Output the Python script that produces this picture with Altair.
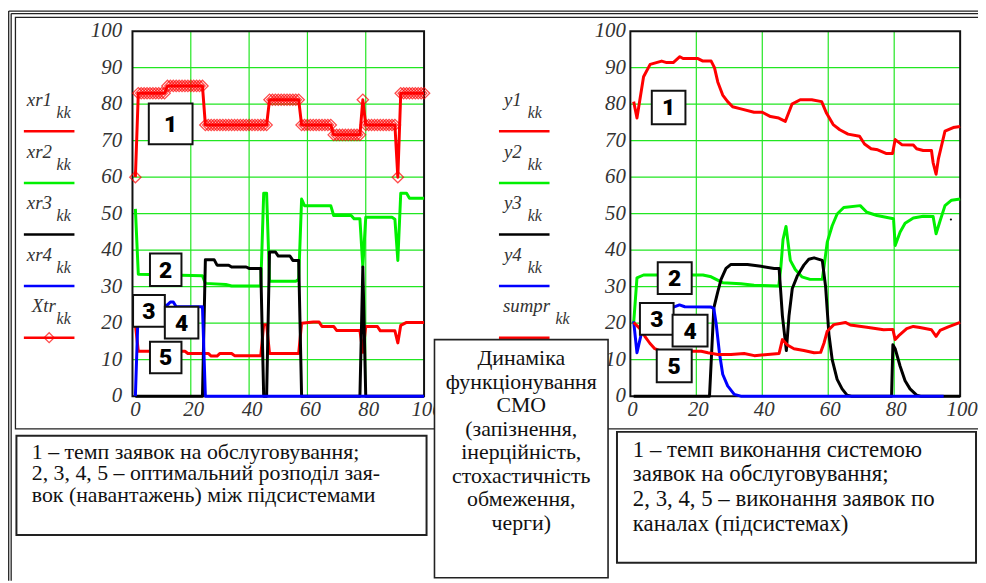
import altair as alt
import pandas as pd

# ------------------------------------------------------------------ data
y_ticks = [0, 10, 20, 30, 40, 50, 60, 70, 80, 90, 100]
x_ticks = [0, 20, 40, 60, 80, 100]

# left panel (kk = 1..100 for the target trace with markers)
kk = list(range(1, 101))
xtr = [60,
       83, 83, 83, 83, 83, 83, 83, 83, 83, 83,
       85, 85, 85, 85, 85, 85, 85, 85, 85, 85, 85, 85, 85,
       74.3, 74.3, 74.3, 74.3, 74.3, 74.3, 74.3, 74.3, 74.3, 74.3, 74.3,
       74.3, 74.3, 74.3, 74.3, 74.3, 74.3, 74.3, 74.3, 74.3, 74.3, 74.3,
       81.2, 81.2, 81.2, 81.2, 81.2, 81.2, 81.2, 81.2, 81.2, 81.2, 81.2,
       74.3, 74.3, 74.3, 74.3, 74.3, 74.3, 74.3, 74.3, 74.3, 74.3, 74.3,
       71.6, 71.6, 71.6, 71.6, 71.6, 71.6, 71.6, 71.6, 71.6, 71.6,
       81.2,
       74.3, 74.3, 74.3, 74.3, 74.3, 74.3, 74.3, 74.3, 74.3, 74.3, 74.3,
       60,
       83, 83, 83, 83, 83, 83, 83, 83, 83]

xr1_x = [1, 2, 18, 19, 26, 27, 29, 30, 34, 35, 44, 45, 46, 47, 57, 58, 62, 64, 65, 69,
         70, 78, 79, 80, 84, 85, 90, 91, 92, 94, 100]
xr1_y = [19.6, 12.3, 12.3, 11.7, 11.7, 11.0, 11.0, 11.7, 11.7, 11.1, 11.1, 19.6, 19.6, 11.7,
         11.7, 20.0, 20.3, 20.3, 19.1, 19.1, 18.0, 18.0, 12.0, 19.1, 19.1, 17.9, 17.9, 14.6,
         19.4, 20.2, 20.2]

xr2_x = [1, 2, 24, 25, 32, 34, 44, 45, 46, 47, 56, 57, 58, 59, 68, 69, 75, 76, 78, 79,
         80, 89, 90, 91, 92, 94, 95, 100]
xr2_y = [51.3, 33.4, 33.0, 30.9, 30.6, 30.2, 30.2, 55.6, 55.6, 31.5, 31.5, 32.0, 54.0, 52.2,
         52.2, 49.5, 49.5, 48.6, 48.6, 35.4, 49.0, 49.0, 48.5, 37.2, 55.6, 55.6, 54.2, 54.2]

xr3_x = [1, 24, 25, 28, 29, 33, 34, 39, 40, 44, 45, 46, 47, 49, 50, 54, 55, 57, 58, 78,
         79, 80, 100]
xr3_y = [0, 0, 37.4, 37.4, 35.9, 35.9, 35.4, 35.4, 35.0, 35.0, 0, 0, 39.5, 39.5, 38.4, 38.4,
         37.2, 37.2, 0, 0, 35.4, 0, 0]

xr4_x = [1, 2, 12, 13, 14, 15, 24, 25, 100]
xr4_y = [0, 24.5, 25.0, 25.8, 25.8, 24.5, 24.5, 0, 0]

# right panel
y1_x = [1, 2, 4, 6, 9.5, 11, 13, 15, 16, 20.5, 22, 24.5, 25.5, 26.5, 28, 29.5, 31, 33.5,
        37.5, 40, 42.5, 45, 47, 49, 51.5, 55, 58, 59.5, 61.5, 63.5, 66, 69.5, 71, 73, 75,
        77.5, 79.5, 80.3, 82.3, 85.8, 86.8, 88.8, 91.3, 91.8, 92.7, 93.4, 95.4, 97.9, 100]
y1_y = [80.7, 76.2, 87.5, 90.9, 91.8, 91.4, 91.4, 93.0, 92.5, 92.5, 91.8, 91.8, 90.0, 86.1,
        82.5, 80.7, 79.3, 78.7, 77.8, 77.8, 76.6, 76.2, 75.3, 80.0, 81.2, 81.2, 80.7, 77.5,
        74.4, 73.0, 71.8, 71.2, 69.1, 67.8, 67.5, 66.5, 66.5, 70.3, 68.9, 68.8, 67.8, 67.3,
        67.3, 64.0, 60.8, 65.0, 72.6, 73.6, 73.9]

y2_x = [1, 2, 4, 22, 24.5, 26, 28, 33.5, 37.5, 45, 45.6, 46.3, 47.2, 48.5, 50, 52, 54.5,
        58.2, 58.8, 59.7, 61.2, 62.7, 64.7, 69.7, 71.7, 74.8, 79.8, 80.3, 81.8, 83.3, 85.8,
        88.8, 91.8, 92.7, 93.9, 95.4, 97.4, 100]
y2_y = [20.0, 32.4, 33.2, 33.2, 32.7, 32.0, 31.1, 30.8, 30.4, 30.2, 35.0, 43.0, 46.5, 37.2,
        34.7, 32.7, 32.0, 32.0, 36.0, 42.2, 46.7, 49.9, 51.7, 52.2, 50.4, 49.5, 48.6, 41.3,
        45.0, 47.4, 48.8, 49.3, 49.2, 44.5, 48.0, 52.2, 53.7, 54.0]

y3_x = [1, 24, 25.3, 26.5, 27.5, 29, 30.5, 35.5, 39.6, 43.6, 45.1, 46.1, 47.3, 48.1, 49.1,
        50.6, 52.6, 54.1, 55.7, 58.2, 59.2, 60.2, 61.2, 62.7, 64.2, 65.7, 67, 79.2, 79.6,
        80.3, 81.8, 83.3, 84.8, 86.8, 88, 100]
y3_y = [0, 0, 24.1, 28.6, 32.0, 35.0, 36.1, 36.1, 35.6, 35.0, 35.0, 22.0, 12.5, 22.0, 29.5,
        32.9, 35.9, 37.5, 37.9, 37.2, 30.0, 17.0, 10.0, 4.6, 2.0, 0.3, 0, 0, 14.1, 13.0, 8.2,
        4.2, 2.0, 0.3, 0, 0]

y4_x = [1, 2, 3.5, 6, 10, 13.1, 14.9, 16.5, 24.5, 25.3, 26, 27, 28, 29.5, 31.5, 33.5, 95]
y4_y = [20.5, 11.9, 17.8, 23.0, 24.3, 24.4, 25.0, 24.5, 24.4, 24.0, 20.0, 11.9, 6.0, 2.8,
        0.5, 0, 0]

y5_x = [1, 2.9, 4.4, 5.9, 7.4, 8.9, 18.6, 21.5, 23.5, 26.5, 30.5, 34.5, 37.6, 45.1, 46.1,
        47.6, 49.6, 52.6, 55.7, 57.7, 58.7, 59.7, 61.7, 65.2, 66.7, 71.7, 76.8, 79.6, 80.3,
        81.3, 83.8, 85.8, 87.8, 91.3, 92.7, 93.9, 96.4, 100]
y5_y = [20.2, 18.5, 16.4, 14.5, 13.0, 12.5, 12.3, 12.3, 11.9, 11.4, 11.4, 11.7, 11.1, 11.7,
        15.5, 14.0, 13.0, 12.5, 11.9, 12.0, 14.5, 17.8, 19.6, 20.2, 19.5, 18.9, 18.2, 18.3,
        15.5, 16.5, 18.5, 19.1, 18.8, 18.2, 16.4, 18.0, 19.0, 20.2]

dot_x = [97.2]
dot_y = [48.4]

left_names = ["xr1", "xr2", "xr3", "xr4", "Xtr"]
right_names = ["y1", "y2", "y3", "y4", "sumpr"]
tag_labels = ["1", "2", "3", "4", "5"]

left_note = ["1 – темп заявок на обслуговування;",
             "2, 3, 4, 5 – оптимальний розподіл зая-",
             "вок (навантажень) між підсистемами"]
mid_note = ["Динаміка", "функціонування", "СМО", "(запізнення,", "інерційність,",
            "стохастичність", "обмеження,", "черги)"]
right_note = ["1 – темп виконання системою", "заявок на обслуговування;",
              "2, 3, 4, 5 – виконання заявок по", "каналах (підсистемах)"]

# ------------------------------------------------------------------ layout / style
W, H = 978, 575
SERIF = "Liberation Serif"
TAGF = "Roboto"
RED, GREEN, BLACK, BLUE = "#ff0000", "#00f000", "#000000", "#0000ff"
GRID = "#22e622"
LX = [125.5, 419.5]
RX = [627.5, 960]
YR = [389, 21]

# tag boxes (x0, x1, y0, y1) in data units of each panel
left_tag_box = [(5.6, 20.6, 69.0, 80.2), (6.0, 16.8, 30.2, 39.1), (0.2, 11.1, 19.0, 27.7),
                (11.1, 22.6, 15.8, 24.5), (6.0, 16.8, 6.3, 14.9)]
right_tag_box = [(6.5, 16.7, 74.5, 83.7), (8.3, 18.6, 28.0, 36.7), (2.9, 13.1, 16.8, 25.5),
                 (12.8, 23.4, 13.6, 22.3), (8.0, 18.6, 3.8, 12.8)]

one = pd.DataFrame({"a": [0]})
layers = []


def sx(rng):
    return alt.Scale(domain=[0, 100], range=rng, nice=False, zero=False)


def XQ(field, rng):
    return alt.X(field, type="quantitative", scale=sx(rng), axis=None)


def YQ(field):
    return alt.Y(field, type="quantitative", scale=sx(YR), axis=None)


def hrule(y, x1, x2, w=1.3, c="#222"):
    return alt.Chart(one).mark_rule(color=c, strokeWidth=w).encode(
        x=alt.value(x1), x2=alt.value(x2), y=alt.value(y))


def vrule(x, y1, y2, w=1.3, c="#222"):
    return alt.Chart(one).mark_rule(color=c, strokeWidth=w).encode(
        x=alt.value(x), y=alt.value(y1), y2=alt.value(y2))


def box(x1, x2, y1, y2, w=1.3, fill=None):
    kw = dict(stroke="#222", strokeWidth=w)
    if fill:
        kw["fill"] = fill
    else:
        kw["fillOpacity"] = 0
    return alt.Chart(one).mark_rect(**kw).encode(
        x=alt.value(x1), x2=alt.value(x2), y=alt.value(y1), y2=alt.value(y2))


def pix_text(texts, xs, ys, **mk):
    df = pd.DataFrame({"t": texts, "px": xs, "py": ys})
    return alt.Chart(df).mark_text(**mk).encode(
        x=alt.X("px:Q", scale=None, axis=None),
        y=alt.Y("py:Q", scale=None, axis=None),
        text="t:N")


# outer frames
layers += [vrule(0.7, 0.7, H), vrule(3.2, 3.2, H), hrule(0.7, 0.7, W), hrule(3.2, 3.2, W)]
layers.append(box(7.5, W + 20, 7, 422))


def panel(rng, series, tags_box, label_dx, ylab_x):
    out = []
    gy = pd.DataFrame({"v": y_ticks[1:-1], "a": 0, "b": 100})
    out.append(alt.Chart(gy).mark_rule(color=GRID, strokeWidth=1.2).encode(
        y=YQ("v"), x=XQ("a", rng), x2=alt.X2("b")))
    gx = pd.DataFrame({"v": x_ticks[1:-1], "a": 0, "b": 100})
    out.append(alt.Chart(gx).mark_rule(color=GRID, strokeWidth=1.2).encode(
        x=XQ("v", rng), y=YQ("a"), y2=alt.Y2("b")))
    fr = pd.DataFrame({"a": [0], "b": [100]})
    out.append(alt.Chart(fr).mark_rect(fillOpacity=0, stroke="#111", strokeWidth=2).encode(
        x=XQ("a", rng), x2=alt.X2("b"), y=YQ("a"), y2=alt.Y2("b")))
    for xs, ys, col in series:
        df = pd.DataFrame({"x": xs, "y": ys})
        out.append(alt.Chart(df).mark_line(color=col, strokeWidth=3, strokeJoin="round").encode(
            x=XQ("x", rng), y=YQ("y")))
    # tags
    tb = pd.DataFrame(tags_box, columns=["x0", "x1", "y0", "y1"])
    tb["t"] = tag_labels
    tb["xc"] = (tb.x0 + tb.x1) / 2
    tb["yc"] = (tb.y0 + tb.y1) / 2
    out.append(alt.Chart(tb).mark_rect(fill="white", stroke="#111", strokeWidth=2).encode(
        x=XQ("x0", rng), x2=alt.X2("x1"), y=YQ("y0"), y2=alt.Y2("y1")))
    out.append(alt.Chart(tb).mark_text(font=TAGF, fontSize=23, fontWeight=900, color="#000",
                                       baseline="middle", dy=1).encode(
        x=XQ("xc", rng), y=YQ("yc"), text="t:N"))
    # tick labels
    yl = pd.DataFrame({"v": y_ticks, "t": [str(v) for v in y_ticks]})
    out.append(alt.Chart(yl).mark_text(font=SERIF, fontStyle="italic", fontSize=21, color="#333",
                                       align="right", baseline="middle").encode(
        y=YQ("v"), x=alt.value(ylab_x), text="t:N"))
    xl = pd.DataFrame({"v": x_ticks, "t": [str(v) for v in x_ticks]})
    out.append(alt.Chart(xl).mark_text(font=SERIF, fontStyle="italic", fontSize=21, color="#333",
                                       align="center", baseline="middle", dx=label_dx).encode(
        x=XQ("v", rng), y=alt.value(403), text="t:N"))
    return out


left_series = [(xr1_x, xr1_y, RED), (xr2_x, xr2_y, GREEN), (xr3_x, xr3_y, BLACK),
               (xr4_x, xr4_y, BLUE), (kk, xtr, RED)]
right_series = [(y1_x, y1_y, RED), (y2_x, y2_y, GREEN), (y3_x, y3_y, BLACK),
                (y4_x, y4_y, BLUE), (y5_x, y5_y, RED)]

lp = panel(LX, left_series, left_tag_box, 3, 115)
dia = alt.Chart(pd.DataFrame({"x": kk, "y": xtr})).mark_point(
    shape="diamond", size=130, filled=False, color=RED, strokeWidth=1.3).encode(
    x=XQ("x", LX), y=YQ("y"))
lp.insert(8, dia)
layers += lp

rp = panel(RX, right_series, right_tag_box, 2, 623)
dot = alt.Chart(pd.DataFrame({"x": dot_x, "y": dot_y})).mark_circle(size=5, color="#000", opacity=1).encode(
    x=XQ("x", RX), y=YQ("y"))
rp.insert(8, dot)
layers += rp

# legends
leg_cols = [RED, GREEN, BLACK, BLUE, RED]
for side, names, lx1, lx2, mx, sxp in [
        ("L", left_names, 16, 67, [19, 19, 19, 19, 24], [49, 49, 49, 49, 49]),
        ("R", right_names, 495, 546, [500, 500, 500, 500, 499], [524, 524, 524, 524, 552])]:
    ly = [122 + 52 * i for i in range(5)]
    for i in range(5):
        layers.append(hrule(ly[i], lx1, lx2, w=2.5, c=leg_cols[i]))
    layers.append(pix_text(names, mx, [v - 25.5 for v in ly], font=SERIF, fontStyle="italic",
                           fontSize=19, color="#333", align="left", baseline="alphabetic"))
    layers.append(pix_text(["kk"] * 5, sxp, [v - 13.5 for v in ly], font=SERIF,
                           fontStyle="italic", fontSize=16, color="#333", align="left",
                           baseline="alphabetic"))
    if side == "L":
        layers.append(alt.Chart(one).mark_point(shape="diamond", size=100, filled=False,
                                                color=RED, strokeWidth=1.3).encode(
            x=alt.value((lx1 + lx2) / 2), y=alt.value(ly[4])))

# note boxes
layers.append(box(8.5, 422, 429, 529, w=2, fill="white"))
layers.append(pix_text(left_note, [24] * 3, [445 + 22 * i for i in range(3)], font=SERIF,
                       fontSize=22, color="#111", align="left", baseline="middle"))
layers.append(box(614, 976, 425, 557, w=2, fill="white"))
layers.append(pix_text(right_note, [630] * 4, [443 + 25 * i for i in range(4)], font=SERIF,
                       fontSize=23, color="#111", align="left", baseline="middle"))
layers.append(box(430, 605, 332, 572, w=1.6, fill="white"))
layers.append(pix_text(mid_note, [517.5] * 8, [351 + 23.7 * i for i in range(8)], font=SERIF,
                       fontSize=22, color="#111", align="center", baseline="middle"))

chart = alt.layer(*layers).resolve_scale(x="independent", y="independent").properties(
    width=W, height=H, padding=0, autosize=alt.AutoSizeParams(type="none"),
    background="white").configure_view(stroke=None)

chart.save("out.html", embed_options={"renderer": "svg", "actions": False})
